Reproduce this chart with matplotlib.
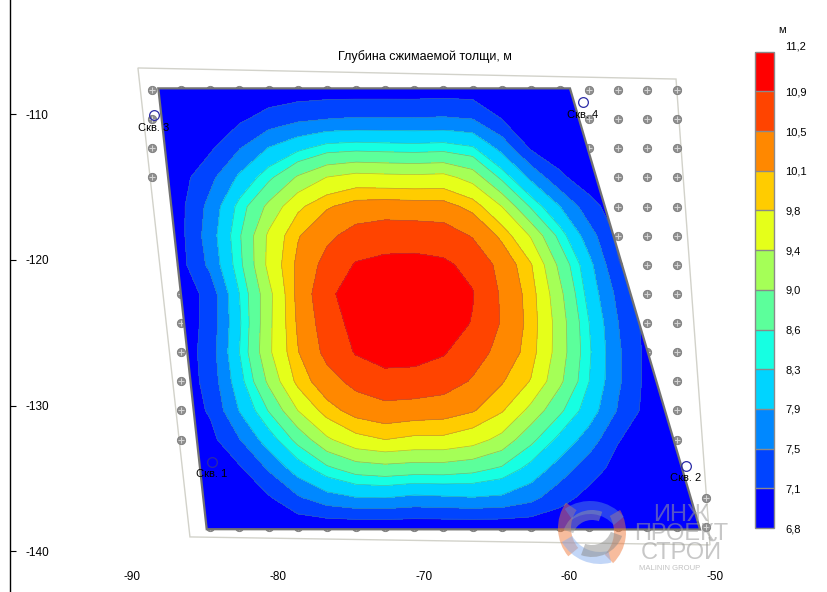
import numpy as np
import matplotlib
matplotlib.use("Agg")
import matplotlib.pyplot as plt
from matplotlib.colors import ListedColormap, BoundaryNorm
from matplotlib.cm import ScalarMappable
from matplotlib.patches import Polygon, Wedge
from matplotlib.path import Path

plt.rcParams['font.family'] = ['Liberation Sans', 'DejaVu Sans']
plt.rcParams['axes.unicode_minus'] = False

# ---- data -------------------------------------------------------------
title = 'Глубина сжимаемой толщи, м'
unit = 'м'

levels = [6.8, 7.1, 7.5, 7.9, 8.3, 8.6, 9.0, 9.4, 9.8, 10.1, 10.5, 10.9, 11.2]
band_colors = ['#0000FF', '#0044FF', '#0088FF', '#00D4FF', '#16FFE2', '#5CFF9B',
               '#A5FF57', '#E5FF1A', '#FFCC00', '#FF8800', '#FF4400', '#FF0000']

x_ticks = [-90, -80, -70, -60, -50]
y_ticks = [-110, -120, -130, -140]

# calculation grid nodes (m)
grid_x = [-88.65, -86.65, -84.65, -82.65, -80.65, -78.65, -76.65, -74.65, -72.65, -70.65,
          -68.65, -66.65, -64.65, -62.65, -60.65, -58.65, -56.65, -54.65, -52.65, -50.65]
grid_y = [-108.33, -110.33, -112.33, -114.33, -116.33, -118.33, -120.33, -122.33,
          -124.33, -126.33, -128.33, -130.33, -132.33, -134.33, -136.33, -138.33]

# compressible-layer depth at grid nodes, one row per grid_y
depth_r00 = [6.85, 6.85, 6.85, 6.85, 6.85, 6.88, 6.90, 6.90, 6.90, 6.90, 6.92, 6.90, 6.85, 6.85, 6.85, 6.85, 6.85, 6.85, 6.85, 6.85]
depth_r01 = [6.85, 6.85, 6.85, 7.03, 7.26, 7.42, 7.50, 7.54, 7.54, 7.53, 7.55, 7.50, 7.10, 6.85, 6.85, 6.85, 6.85, 6.85, 6.85, 6.85]
depth_r02 = [6.85, 6.85, 7.04, 7.48, 7.92, 8.21, 8.45, 8.50, 8.47, 8.45, 8.48, 8.35, 7.77, 7.05, 6.85, 6.85, 6.85, 6.85, 6.85, 6.85]
depth_r03 = [6.85, 6.96, 7.39, 7.97, 8.51, 9.05, 9.41, 9.55, 9.52, 9.50, 9.53, 9.24, 8.51, 7.81, 7.18, 6.86, 6.85, 6.85, 6.85, 6.85]
depth_r04 = [6.85, 7.02, 7.63, 8.42, 9.10, 9.72, 10.06, 10.25, 10.28, 10.26, 10.24, 9.99, 9.40, 8.55, 7.90, 7.26, 6.85, 6.85, 6.85, 6.85]
depth_r05 = [6.85, 7.01, 7.71, 8.56, 9.47, 10.07, 10.41, 10.66, 10.76, 10.75, 10.71, 10.47, 10.02, 9.36, 8.47, 7.67, 7.02, 6.85, 6.85, 6.85]
depth_r06 = [6.85, 6.98, 7.60, 8.50, 9.50, 10.18, 10.64, 10.93, 10.98, 11.00, 10.96, 10.80, 10.37, 9.83, 8.89, 8.02, 7.12, 6.85, 6.85, 6.85]
depth_r07 = [6.85, 6.85, 7.25, 8.30, 9.28, 10.20, 10.82, 11.08, 11.12, 11.15, 11.10, 10.92, 10.45, 9.95, 9.10, 8.15, 7.38, 6.88, 6.85, 6.85]
depth_r08 = [6.85, 6.85, 7.25, 8.25, 9.30, 10.15, 10.72, 11.02, 11.10, 11.13, 11.08, 10.88, 10.47, 9.98, 9.20, 8.30, 7.50, 6.95, 6.85, 6.85]
depth_r09 = [6.85, 6.85, 7.30, 8.30, 9.32, 10.08, 10.62, 10.93, 11.02, 11.00, 10.93, 10.68, 10.37, 9.94, 9.20, 8.35, 7.56, 6.98, 6.85, 6.85]
depth_r10 = [6.85, 6.85, 7.25, 8.15, 9.08, 9.90, 10.33, 10.63, 10.80, 10.80, 10.70, 10.46, 10.13, 9.78, 9.08, 8.30, 7.56, 6.98, 6.85, 6.85]
depth_r11 = [6.85, 6.85, 7.15, 7.92, 8.62, 9.40, 9.96, 10.24, 10.35, 10.30, 10.26, 10.13, 9.84, 9.28, 8.67, 8.11, 7.46, 6.96, 6.85, 6.85]
depth_r12 = [6.85, 6.85, 6.98, 7.48, 8.11, 8.72, 9.33, 9.68, 9.80, 9.72, 9.72, 9.58, 9.27, 8.70, 8.19, 7.71, 7.12, 6.88, 6.85, 6.85]
depth_r13 = [6.85, 6.85, 6.85, 7.04, 7.54, 8.09, 8.51, 8.78, 8.85, 8.80, 8.80, 8.72, 8.54, 8.17, 7.71, 7.27, 6.96, 6.85, 6.85, 6.85]
depth_r14 = [6.85, 6.85, 6.85, 6.85, 7.05, 7.44, 7.74, 7.88, 7.90, 7.80, 7.84, 7.88, 7.83, 7.62, 7.24, 6.97, 6.85, 6.85, 6.85, 6.85]
depth_r15 = [6.82, 6.82, 6.82, 6.82, 6.82, 6.82, 6.82, 6.82, 6.82, 6.82, 6.82, 6.82, 6.82, 6.82, 6.82, 6.82, 6.82, 6.82, 6.82, 6.82]

# building footprint (contoured area) and survey frame
field_x = [-88.22, -59.97, -51.04, -84.90]
field_y = [-108.22, -108.22, -138.50, -138.48]
frame_x = [-89.62, -52.69, -50.36, -86.05]
frame_y = [-106.82, -107.58, -139.56, -139.01]

# boreholes
bh_names = ['Скв. 1', 'Скв. 2', 'Скв. 3', 'Скв. 4']
bh_x = [-84.56, -52.02, -88.55, -59.09]
bh_y = [-133.88, -134.12, -110.08, -109.18]

# ---- figure -----------------------------------------------------------
depth = np.array([depth_r00, depth_r01, depth_r02, depth_r03, depth_r04, depth_r05,
                  depth_r06, depth_r07, depth_r08, depth_r09, depth_r10, depth_r11,
                  depth_r12, depth_r13, depth_r14, depth_r15])

fig = plt.figure(figsize=(8.28, 5.92), dpi=100)
ax = fig.add_axes([10 / 828, 0.0, 730 / 828, 1.0])
ax.set_xlim(-98.40, -48.30)
ax.set_ylim(-142.79, -102.155)

for side in ('top', 'right', 'bottom'):
    ax.spines[side].set_visible(False)
ax.spines['left'].set_color('black')
ax.spines['left'].set_linewidth(1.0)

ax.set_xticks(x_ticks)
ax.set_xticklabels([str(v) for v in x_ticks])
ax.set_yticks(y_ticks)
ax.set_yticklabels([str(v) for v in y_ticks])
ax.tick_params(axis='x', length=0, pad=-15.0, labelsize=8.5)
ax.tick_params(axis='y', direction='in', length=4.3, width=0.8, pad=-11.5, labelsize=8.5)
for lbl in ax.get_yticklabels():
    lbl.set_horizontalalignment('left')

# survey frame
frame = np.column_stack([frame_x, frame_y])
ax.add_patch(Polygon(frame, closed=True, fill=False, edgecolor='#d2d2ca',
                     linewidth=1.0, zorder=1))

# grid nodes inside the frame
gx, gy = np.meshgrid(grid_x, grid_y)
nodes = np.column_stack([gx.ravel(), gy.ravel()])
inside = Path(frame).contains_points(nodes)
ax.plot(nodes[inside, 0], nodes[inside, 1], 'o', ms=6.0, mfc='#909090',
        mec='#7c7c7c', mew=0.6, zorder=2)
ax.plot(nodes[inside, 0], nodes[inside, 1], '+', ms=4.6, mec='#d6d6d6',
        mew=0.7, zorder=2.1)

# contoured footprint
field = np.column_stack([field_x, field_y])
ax.add_patch(Polygon(field, closed=True, facecolor=band_colors[0],
                     edgecolor='none', zorder=3))
clip = Polygon(field, closed=True, transform=ax.transData)
cs = ax.contourf(grid_x, grid_y, depth, levels=levels, colors=band_colors, zorder=4)
cs.set_clip_path(clip)
cl = ax.contour(grid_x, grid_y, depth, levels=levels[1:-1], colors='#6a6a6a',
                linewidths=0.5, alpha=0.45, zorder=4.5)
cl.set_clip_path(clip)
ax.add_patch(Polygon(field, closed=True, fill=False, edgecolor='#727272',
                     linewidth=1.6, zorder=5))

# boreholes
ax.plot(bh_x, bh_y, 'o', ms=7, mfc='none', mec='#2b2ba6', mew=0.9, zorder=6)
for name, x, y in zip(bh_names, bh_x, bh_y):
    ax.annotate(name, (x, y), xytext=(0, -8.8), textcoords='offset points',
                ha='center', va='center', fontsize=8, zorder=7)

fig.text(425 / 828, 1 - 57 / 592, title, ha='center', va='center', fontsize=9)

# colour scale
cax = fig.add_axes([755 / 828, 1 - 528 / 592, 19 / 828, 476.3 / 592])
cmap = ListedColormap(band_colors)
norm = BoundaryNorm(levels, cmap.N)
cb = fig.colorbar(ScalarMappable(norm=norm, cmap=cmap), cax=cax, ticks=levels,
                  spacing='uniform', drawedges=True)
cb.outline.set_edgecolor('#8a8a8a')
cb.outline.set_linewidth(1.0)
cb.dividers.set_color('#8a8a8a')
cb.dividers.set_linewidth(1.0)
cb.ax.tick_params(length=0, pad=8, labelsize=8)
cb.set_ticklabels([f'{v:.1f}'.replace('.', ',') for v in levels])
# the top value sits just above the bar
cb.ax.yaxis.get_major_ticks()[-1].label2.set_verticalalignment('bottom')
fig.text(782 / 828, 1 - 30 / 592, unit, ha='center', va='center', fontsize=8)

# company watermark
deco = fig.add_axes([0, 0, 1, 1], zorder=10)
deco.set_xlim(0, 828)
deco.set_ylim(592, 0)
deco.axis('off')
for (cx, cy), r, w, t1, t2, col in [((602, 528), 44, 13, 140, 215, '#f07a3c'),
                                    ((582, 532), 44, 12, 330, 45, '#f07a3c'),
                                    ((590, 545), 44, 13, 235, 320, '#4f82e4'),
                                    ((600, 520), 44, 12, 75, 150, '#86aef0'),
                                    ((592, 525), 32, 12, 20, 110, '#8a8a8a'),
                                    ((592, 540), 30, 10, 200, 290, '#9a9a9a')]:
    deco.add_patch(Wedge((cx, cy), r, t1, t2, width=w, facecolor=col,
                         edgecolor='none', alpha=0.5))
deco.text(681, 534, 'ИНЖ\nПРОЕКТ\nСТРОЙ', ha='center', va='center',
          multialignment='center', fontsize=17, linespacing=0.82,
          color='#9a9a9a', alpha=0.55)
deco.text(670, 568, 'MALININ GROUP', ha='center', va='center', fontsize=5.5,
          color='#9a9a9a', alpha=0.6)

fig.savefig('out.png', dpi=100)
